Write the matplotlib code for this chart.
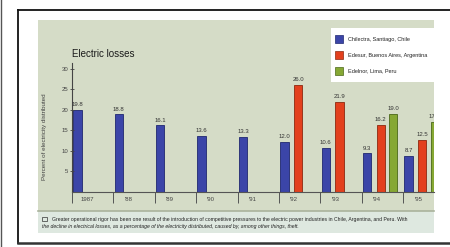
import numpy as np
import matplotlib
matplotlib.use("Agg")
import matplotlib.pyplot as plt
from matplotlib.patches import Rectangle

plt.rcParams['font.family'] = ['Liberation Sans', 'DejaVu Sans']

# Daten
jahre = ["1987", "'88", "'89", "'90", "'91", "'92", "'93", "'94", "'95"]
chilectra = [19.8, 18.8, 16.1, 13.6, 13.3, 12.0, 10.6, 9.3, 8.7]
edesur = [np.nan, np.nan, np.nan, np.nan, np.nan, 26.0, 21.9, 16.2, 12.5]
edelnor = [np.nan, np.nan, np.nan, np.nan, np.nan, np.nan, np.nan, 19.0, 17.0]
namen = ["Chilectra, Santiago, Chile", "Edesur, Buenos Aires, Argentina", "Edelnor, Lima, Peru"]
farben = ['#3b45a8', '#e3401d', '#86a834']
kanten = ['#1f2770', '#8c2810', '#4a6818']

W, H = 450, 247
fig = plt.figure(figsize=(W / 100, H / 100), dpi=100)
fig.patch.set_facecolor('white')

# Hintergrund in Pixel-Koordinaten
bg = fig.add_axes([0, 0, 1, 1])
bg.set_xlim(0, W)
bg.set_ylim(H, 0)
bg.axis('off')
bg.add_patch(Rectangle((38, 20), 396, 192, facecolor='#d5dcc7', edgecolor='none'))
bg.add_patch(Rectangle((38, 211), 396, 22, facecolor='#dee8e0', edgecolor='none'))
bg.plot([38, 434], [210.5, 210.5], color='#aab39c', linewidth=1.2)
# Rahmen
bg.plot([18, 450], [10, 10], color='#111111', linewidth=1.3)
bg.plot([18, 18], [10, 243], color='#111111', linewidth=1.3)
bg.plot([18, 450], [243, 243], color='#333333', linewidth=1.8)
bg.plot([0.5, 0.5], [0, H], color='#555555', linewidth=1.0)

# Bildunterschrift
bg.add_patch(Rectangle((42, 216.5), 5, 4.5, facecolor='none', edgecolor='#333333', linewidth=0.5))
bg.text(52, 219, "Greater operational rigor has been one result of the introduction of competitive pressures "
        "to the electric power industries in Chile, Argentina, and Peru. With",
        fontsize=3.7, color='#222222', va='center', ha='left')
bg.text(42, 226, "the decline in electrical losses, as a percentage of the electricity distributed, "
        "caused by, among other things, theft.",
        fontsize=3.7, color='#222222', va='center', ha='left', style='italic')

# Diagramm
x0, x1, yb, yt = 72, 434, 191.5, 63
ax = fig.add_axes([x0 / W, 1 - yb / H, (x1 - x0) / W, (yb - yt) / H])
ax.set_facecolor('none')
gruppe = 41.4
ax.set_xlim(0, (x1 - x0) / gruppe)
ax.set_ylim(0, (yb - yt) / 4.1)

x = np.arange(len(jahre))
breite = 0.2
offsets = [0.03, 0.36, 0.66]
for werte, off, f, k in zip([chilectra, edesur, edelnor], offsets, farben, kanten):
    werte = np.array(werte)
    ax.bar(x + off, werte, width=breite, align='edge', color=f, edgecolor=k, linewidth=0.6)
    for xi, v in zip(x, werte):
        if not np.isnan(v):
            ax.text(xi + off + breite / 2, v + 0.7, f"{v:.1f}", ha='center', va='bottom',
                    fontsize=4.3, color='#333333', clip_on=True)

ax.spines['top'].set_visible(False)
ax.spines['right'].set_visible(False)
ax.spines['left'].set_color('#444444')
ax.spines['bottom'].set_color('#555555')
ax.spines['left'].set_linewidth(0.8)
ax.spines['bottom'].set_linewidth(0.8)

ax.set_yticks([5, 10, 15, 20, 25, 30])
ax.set_yticklabels(["5", "10", "15", "20", "25", "30"])
ax.tick_params(axis='y', direction='inout', length=3, width=0.6, color='#444444',
               labelsize=4.3, labelcolor='#444444', pad=1)

ax.set_xticks(x)
ax.set_xticklabels([])
ax.tick_params(axis='x', direction='out', length=8, width=0.7, color='#555555')
for xi, j in zip(x, jahre):
    ax.text(xi + 0.36, -2.0, j, ha='center', va='center', fontsize=4.3, color='#444444')

ax.set_ylabel("Percent of electricity distributed", fontsize=4.5, color='#444444', labelpad=7)
ax.yaxis.set_label_coords(-0.068, 0.43)
ax.text(0, 33.5, "Electric losses", fontsize=7, color='#1a1a1a', ha='left', va='center')

# Legende
lg = fig.add_axes([331 / W, 1 - 82 / H, (434 - 331) / W, (82 - 28) / H])
lg.set_xlim(0, 103)
lg.set_ylim(54, 0)
lg.set_facecolor('white')
for s in lg.spines.values():
    s.set_visible(False)
lg.set_xticks([])
lg.set_yticks([])
for i, (n, f, k) in enumerate(zip(namen, farben, kanten)):
    yy = 11 + i * 16
    lg.add_patch(Rectangle((4, yy - 4), 8, 8, facecolor=f, edgecolor=k, linewidth=0.5))
    lg.text(17, yy, n, fontsize=4.0, color='#222222', va='center', ha='left', clip_on=True)

fig.savefig("out.png", dpi=100, facecolor='white')
